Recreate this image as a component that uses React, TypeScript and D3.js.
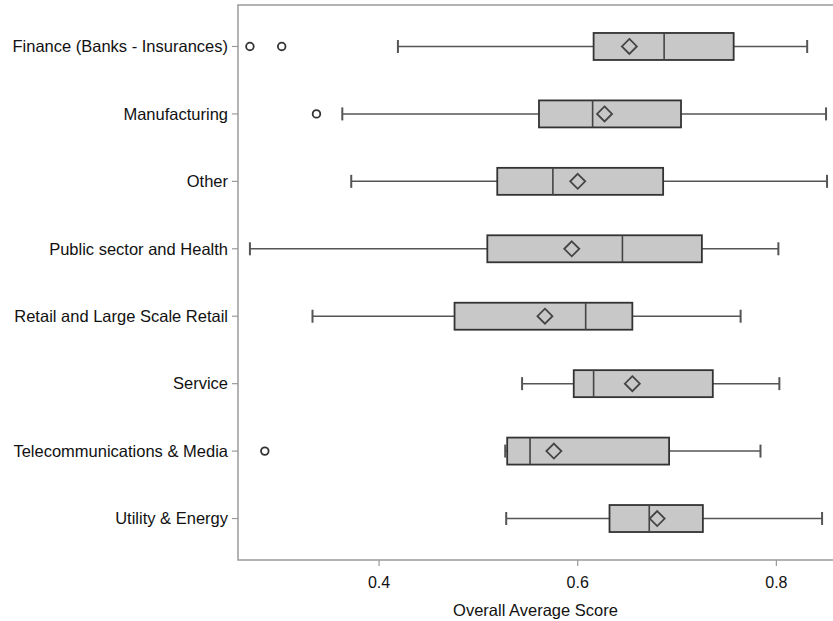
import React, { useEffect, useRef } from 'react';
import * as d3 from 'd3';

const categories = [
  'Finance (Banks - Insurances)',
  'Manufacturing',
  'Other',
  'Public sector and Health',
  'Retail and Large Scale Retail',
  'Service',
  'Telecommunications & Media',
  'Utility & Energy',
];
const whiskerLow = [0.419, 0.363, 0.372, 0.27, 0.333, 0.544, 0.527, 0.528];
const q1 = [0.616, 0.561, 0.519, 0.509, 0.476, 0.596, 0.529, 0.632];
const median = [0.687, 0.615, 0.575, 0.645, 0.608, 0.616, 0.552, 0.672];
const q3 = [0.757, 0.704, 0.686, 0.725, 0.655, 0.736, 0.692, 0.726];
const whiskerHigh = [0.831, 0.85, 0.851, 0.802, 0.764, 0.803, 0.784, 0.846];
const mean = [0.652, 0.627, 0.6, 0.594, 0.567, 0.655, 0.576, 0.68];
const outliers: [string, number][] = [
  ['Finance (Banks - Insurances)', 0.27],
  ['Finance (Banks - Insurances)', 0.302],
  ['Manufacturing', 0.337],
  ['Telecommunications & Media', 0.285],
];
const xTicks = [0.4, 0.6, 0.8];

const App: React.FC = () => {
  const svgRef = useRef<SVGSVGElement | null>(null);

  useEffect(() => {
    if (!svgRef.current) return;
    const width = 833, height = 621;
    const left = 238, top = 5, bottom = 560, right = 833;
    const font = '"Liberation Sans", Arial, sans-serif';

    const x = d3.scaleLinear().domain([0.258, 0.857]).range([left, right]);
    const y = d3.scalePoint<string>().domain(categories).range([top, bottom]).padding(0.615);
    const boxH = 27, capH = 13;

    const svg = d3.select(svgRef.current);
    svg.selectAll('*').remove();
    svg.attr('width', width).attr('height', height).style('display', 'block');

    // frame: top line, left axis, bottom axis
    svg.append('path')
      .attr('d', `M${right + 2},${top}H${left}V${bottom}H${right + 2}`)
      .attr('fill', 'none').attr('stroke', '#9a9a9a').attr('stroke-width', 1.5);

    const rows = categories.map((c, i) => ({
      c, lo: whiskerLow[i], q1: q1[i], med: median[i], q3: q3[i], hi: whiskerHigh[i], mean: mean[i],
    }));

    const g = svg.append('g').selectAll('g').data(rows).enter().append('g')
      .attr('transform', d => `translate(0,${y(d.c)})`);

    g.append('line')
      .attr('x1', d => x(d.lo)).attr('x2', d => x(d.q1))
      .attr('stroke', '#555').attr('stroke-width', 1.5);
    g.append('line')
      .attr('x1', d => x(d.q3)).attr('x2', d => x(d.hi))
      .attr('stroke', '#555').attr('stroke-width', 1.5);
    g.append('line')
      .attr('x1', d => x(d.lo)).attr('x2', d => x(d.lo))
      .attr('y1', -capH / 2).attr('y2', capH / 2)
      .attr('stroke', '#555').attr('stroke-width', 2);
    g.append('line')
      .attr('x1', d => x(d.hi)).attr('x2', d => x(d.hi))
      .attr('y1', -capH / 2).attr('y2', capH / 2)
      .attr('stroke', '#555').attr('stroke-width', 2);
    g.append('rect')
      .attr('x', d => x(d.q1)).attr('width', d => x(d.q3) - x(d.q1))
      .attr('y', -boxH / 2).attr('height', boxH)
      .attr('fill', '#c8c8c8').attr('stroke', '#333').attr('stroke-width', 1.8);
    g.append('line')
      .attr('x1', d => x(d.med)).attr('x2', d => x(d.med))
      .attr('y1', -boxH / 2).attr('y2', boxH / 2)
      .attr('stroke', '#444').attr('stroke-width', 1.6);
    g.append('path')
      .attr('d', d => {
        const cx = x(d.mean), s = 7.5;
        return `M${cx},${-s}L${cx + s},0L${cx},${s}L${cx - s},0Z`;
      })
      .attr('fill', 'none').attr('stroke', '#444').attr('stroke-width', 1.8);

    svg.append('g').selectAll('circle').data(outliers).enter().append('circle')
      .attr('cx', d => x(d[1])).attr('cy', d => y(d[0]) as number)
      .attr('r', 3.8).attr('fill', 'none').attr('stroke', '#333').attr('stroke-width', 1.8);

    // y axis ticks and labels
    const yAx = svg.append('g');
    yAx.selectAll('line').data(categories).enter().append('line')
      .attr('x1', left - 6).attr('x2', left)
      .attr('y1', d => y(d) as number).attr('y2', d => y(d) as number)
      .attr('stroke', '#9a9a9a').attr('stroke-width', 1.2);
    yAx.selectAll('text').data(categories).enter().append('text')
      .attr('x', left - 10).attr('y', d => y(d) as number).attr('dy', '0.35em')
      .attr('text-anchor', 'end').attr('font-family', font).attr('font-size', 16.5)
      .attr('fill', '#111').text(d => d);

    // x axis ticks and labels
    const xAx = svg.append('g');
    xAx.selectAll('line').data(xTicks).enter().append('line')
      .attr('x1', d => x(d)).attr('x2', d => x(d))
      .attr('y1', bottom).attr('y2', bottom + 6)
      .attr('stroke', '#9a9a9a').attr('stroke-width', 1.2);
    xAx.selectAll('text').data(xTicks).enter().append('text')
      .attr('x', d => x(d)).attr('y', bottom + 28)
      .attr('text-anchor', 'middle').attr('font-family', font).attr('font-size', 16)
      .attr('fill', '#111').text(d => d3.format('.1f')(d));

    svg.append('text')
      .attr('x', (left + right) / 2).attr('y', bottom + 56)
      .attr('text-anchor', 'middle').attr('font-family', font).attr('font-size', 16.5)
      .attr('fill', '#111').text('Overall Average Score');
  }, []);

  return <svg ref={svgRef} style={{ position: 'absolute', left: 0, top: 0 }} />;
};

export default App;
